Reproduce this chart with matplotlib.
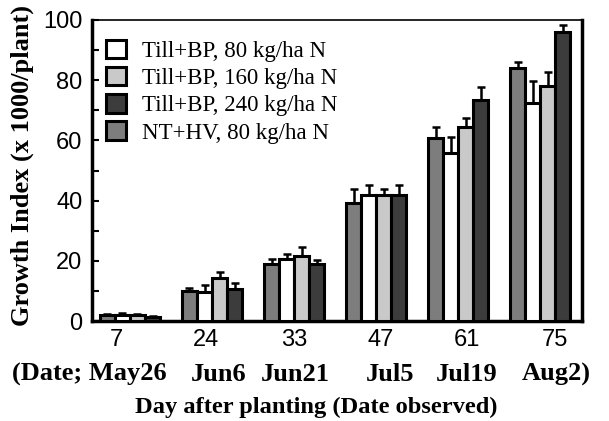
import matplotlib
matplotlib.use("Agg")
import matplotlib.pyplot as plt
import numpy as np

days = ["7", "24", "33", "47", "61", "75"]
dates = ["(Date; May26", "Jun6", "Jun21", "Jul5", "Jul19", "Aug2)"]

series_names = ["NT+HV, 80 kg/ha N", "Till+BP, 80 kg/ha N",
                "Till+BP, 160 kg/ha N", "Till+BP, 240 kg/ha N"]
nt_hv_80 = [2.0, 10.0, 18.9, 39.2, 60.7, 84.0]
till_80 = [2.0, 9.8, 20.6, 42.0, 55.7, 72.3]
till_160 = [2.0, 14.2, 21.7, 42.0, 64.4, 78.0]
till_240 = [1.2, 10.7, 18.9, 42.0, 73.3, 96.0]

nt_hv_80_err = [0.4, 1.0, 1.7, 4.8, 3.7, 1.9]
till_80_err = [0.5, 2.0, 1.8, 3.3, 5.3, 7.6]
till_160_err = [0.4, 2.0, 3.0, 2.0, 2.9, 4.6]
till_240_err = [0.4, 2.0, 1.3, 3.3, 4.5, 2.5]

values = [nt_hv_80, till_80, till_160, till_240]
errors = [nt_hv_80_err, till_80_err, till_160_err, till_240_err]
colors = ["#7d7d7d", "#ffffff", "#c9c9c9", "#3c3c3c"]

serif = ["Liberation Serif", "DejaVu Serif"]
sans = ["Liberation Sans", "DejaVu Sans"]

fig = plt.figure(figsize=(6.09, 4.21), dpi=100)
ax = fig.add_axes([92/609, 1-321/421, (582-92)/609, (321-20)/421])

x = np.arange(len(days))
w = 0.183
offsets = [-1.5*w, -0.5*w, 0.5*w, 1.5*w]
bars = []
for vals, errs, col, off, name in zip(values, errors, colors, offsets, series_names):
    b = ax.bar(x + off, vals, width=w, color=col, edgecolor="black",
               linewidth=2.2, label=name, zorder=3)
    bars.append(b)
    ax.errorbar(x + off, vals, yerr=[np.zeros(len(vals)), errs], fmt="none",
                ecolor="black", elinewidth=1.8, capsize=3, capthick=1.8, zorder=2)

ax.set_xlim(-0.463, 5.51)
ax.set_ylim(0, 100)
ax.set_yticks(np.arange(0, 101, 20))
ax.set_yticks(np.arange(10, 100, 20), minor=True)
ax.tick_params(axis="y", which="both", direction="in", length=5, width=1.5,
               labelsize=17, pad=7)
for t in ax.get_yticklabels():
    t.set_fontfamily(sans)

label_pos = [-0.16, 0.93, 2.0, 3.05, 4.11, 5.18]
ax.set_xticks(label_pos)
ax.set_xticklabels(days, fontsize=17, fontfamily=sans)
ax.tick_params(axis="x", length=0, pad=6)

date_pos = [-0.5, 1.08, 2.01, 3.17, 4.1, 5.2]
trans = ax.get_xaxis_transform()
for p, d in zip(date_pos, dates):
    ax.text(p, -0.177, d, transform=trans, ha="center", va="center",
            fontsize=19, fontweight="bold", fontfamily=serif)

fig.text(316/609, 1-407/421, "Day after planting (Date observed)", ha="center", va="center",
         fontsize=17.6, fontweight="bold", fontfamily=serif)
fig.text(22/609, 1-166/421, "Growth Index (x 1000/plant)", rotation=90,
         ha="center", va="center", fontsize=19, fontweight="bold", fontfamily=serif)

for s in ["left", "bottom", "right"]:
    ax.spines[s].set_linewidth(2.5)
ax.spines["top"].set_linewidth(1.2)

handles = [bars[1], bars[2], bars[3], bars[0]]
labels = [series_names[1], series_names[2], series_names[3], series_names[0]]
leg = ax.legend(handles, labels, loc="upper left", bbox_to_anchor=(0.028, 0.935),
                frameon=False, prop={"family": serif, "size": 16.5},
                handlelength=0.87, handleheight=0.87, handletextpad=0.7,
                labelspacing=0.22, borderaxespad=0.0, borderpad=0.0)

fig.savefig("out.png", dpi=100)
